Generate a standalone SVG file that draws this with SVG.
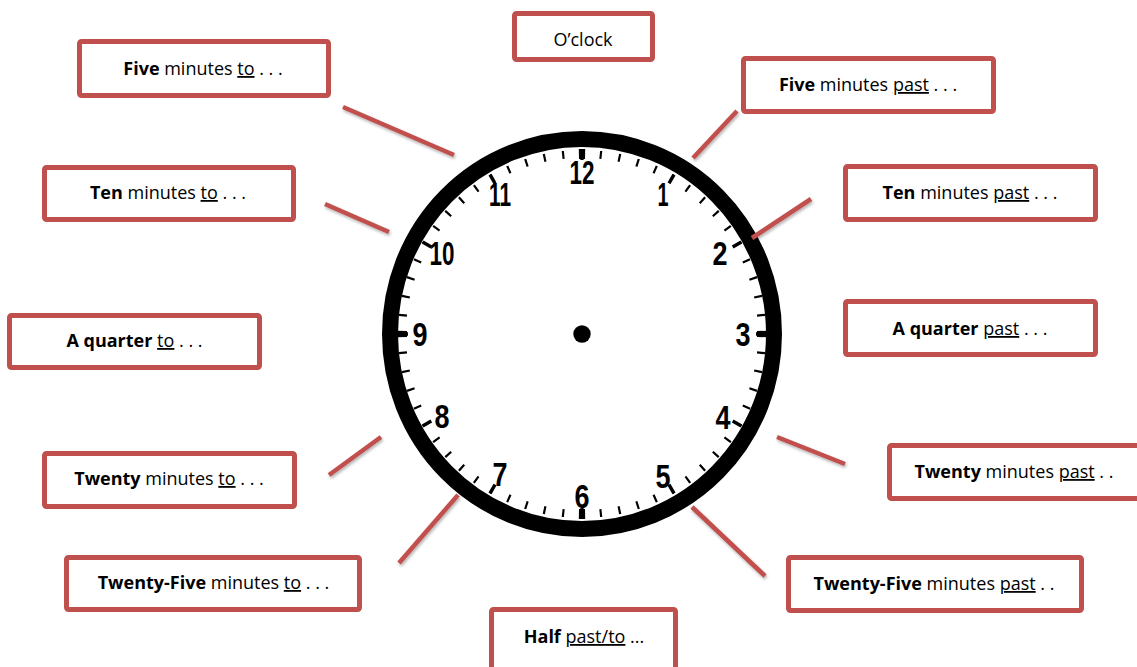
<svg xmlns="http://www.w3.org/2000/svg" width="1137" height="667" viewBox="0 0 1137 667">
<style>
.box{fill:#fff;stroke:#C0504D;stroke-width:5}
.lbl{font-family:"Open Sans",Lato,sans-serif;font-size:18px;fill:#000;text-anchor:middle}
.b{font-weight:bold}
.u{text-decoration:underline}
.con line{stroke:#C0504D;stroke-width:4.5;filter:url(#sh)}
.num{font-family:"Liberation Sans",Arial,sans-serif;font-weight:bold;font-size:33px;text-anchor:middle;fill:#000}
</style>
<defs>
<filter id="sh" x="-20%" y="-20%" width="140%" height="140%">
<feDropShadow dx="1" dy="2" stdDeviation="1.5" flood-color="#000" flood-opacity="0.3"/>
</filter>
</defs>
<rect width="1137" height="667" fill="#fff"/>

<g id="clock">
<ellipse cx="582" cy="334" rx="192" ry="195" fill="#fff" stroke="#000" stroke-width="16"/>
<circle cx="582" cy="334" r="180" fill="none" stroke="#000" stroke-width="8" pathLength="360" stroke-dasharray="0.7 5.3" stroke-dashoffset="0.35"/>
<circle cx="582" cy="334" r="179" fill="none" stroke="#000" stroke-width="10" pathLength="360" stroke-dasharray="1.1 28.9" stroke-dashoffset="0.55"/>
<circle cx="582" cy="334" r="180" fill="none" stroke="#000" stroke-width="10" pathLength="360" stroke-dasharray="2 88" stroke-dashoffset="1"/>
<circle cx="582" cy="334" r="8.7" fill="#000"/>
<text class="num" x="582" y="184" textLength="25" lengthAdjust="spacingAndGlyphs">12</text>
<text class="num" x="663" y="206" textLength="11" lengthAdjust="spacingAndGlyphs">1</text>
<text class="num" x="720" y="265" textLength="15" lengthAdjust="spacingAndGlyphs">2</text>
<text class="num" x="743" y="346" textLength="15" lengthAdjust="spacingAndGlyphs">3</text>
<text class="num" x="723" y="429" textLength="15" lengthAdjust="spacingAndGlyphs">4</text>
<text class="num" x="663" y="488" textLength="15" lengthAdjust="spacingAndGlyphs">5</text>
<text class="num" x="582" y="508" textLength="15" lengthAdjust="spacingAndGlyphs">6</text>
<text class="num" x="500" y="486" textLength="15" lengthAdjust="spacingAndGlyphs">7</text>
<text class="num" x="442" y="428" textLength="15" lengthAdjust="spacingAndGlyphs">8</text>
<text class="num" x="420" y="346" textLength="15" lengthAdjust="spacingAndGlyphs">9</text>
<text class="num" x="442" y="265" textLength="25" lengthAdjust="spacingAndGlyphs">10</text>
<text class="num" x="500" y="206" textLength="22" lengthAdjust="spacingAndGlyphs">11</text>
</g>

<g id="connectors" class="con">
<line x1="580" y1="76" x2="580" y2="113"/>
<line x1="343" y1="107" x2="454" y2="155"/>
<line x1="737" y1="111" x2="693" y2="158"/>
<line x1="325" y1="204" x2="389" y2="232"/>
<line x1="811" y1="199" x2="752" y2="238"/>
<line x1="294" y1="331" x2="345" y2="331"/>
<line x1="765" y1="331" x2="826" y2="331"/>
<line x1="329" y1="475" x2="381" y2="437"/>
<line x1="777" y1="437" x2="845" y2="464"/>
<line x1="399" y1="563" x2="458" y2="495"/>
<line x1="692" y1="507" x2="765" y2="576"/>
<line x1="587" y1="548" x2="587" y2="585"/>
</g>

<g id="oclock"><rect class="box" x="514.5" y="13.5" width="138" height="46" rx="2"/><text class="lbl" x="583" y="46">O’clock</text></g>
<g id="five-to"><rect class="box" x="79.5" y="41.5" width="249" height="54" rx="2"/><text class="lbl" x="203" y="75"><tspan class="b">Five</tspan> minutes <tspan class="u">to</tspan> . . .</text></g>
<g id="five-past"><rect class="box" x="743.5" y="58.5" width="250" height="53" rx="2"/><text class="lbl" x="868" y="91"><tspan class="b">Five</tspan> minutes <tspan class="u">past</tspan> . . .</text></g>
<g id="ten-to"><rect class="box" x="44.5" y="167.5" width="249" height="52" rx="2"/><text class="lbl" x="168" y="199"><tspan class="b">Ten</tspan> minutes <tspan class="u">to</tspan> . . .</text></g>
<g id="ten-past"><rect class="box" x="845.5" y="166.5" width="250" height="53" rx="2"/><text class="lbl" x="970" y="199"><tspan class="b">Ten</tspan> minutes <tspan class="u">past</tspan> . . .</text></g>
<g id="quarter-to"><rect class="box" x="9.5" y="315.5" width="250" height="52" rx="2"/><text class="lbl" x="134.5" y="347"><tspan class="b">A quarter</tspan> <tspan class="u">to</tspan> . . .</text></g>
<g id="quarter-past"><rect class="box" x="845.5" y="301.5" width="250" height="53" rx="2"/><text class="lbl" x="970" y="335"><tspan class="b">A quarter</tspan> <tspan class="u">past</tspan> . . .</text></g>
<g id="twenty-to"><rect class="box" x="44.5" y="453.5" width="250" height="53" rx="2"/><text class="lbl" x="169" y="485"><tspan class="b">Twenty</tspan> minutes <tspan class="u">to</tspan> . . .</text></g>
<g id="twenty-past"><rect class="box" x="889.5" y="445.5" width="255" height="53" rx="2"/><text class="lbl" x="1014" y="478"><tspan class="b">Twenty</tspan> minutes <tspan class="u">past</tspan> . .</text></g>
<g id="twentyfive-to"><rect class="box" x="66.5" y="557.5" width="293" height="52" rx="2"/><text class="lbl" x="213.5" y="589"><tspan class="b">Twenty-Five</tspan> minutes <tspan class="u">to</tspan> . . .</text></g>
<g id="twentyfive-past"><rect class="box" x="788.5" y="557.5" width="293" height="53" rx="2"/><text class="lbl" x="934" y="590"><tspan class="b">Twenty-Five</tspan> minutes <tspan class="u">past</tspan> . .</text></g>
<g id="half"><rect class="box" x="491.5" y="609.5" width="184" height="62" rx="2"/><text class="lbl" x="584" y="643"><tspan class="b">Half</tspan> <tspan class="u">past/to</tspan> ...</text></g>
</svg>
